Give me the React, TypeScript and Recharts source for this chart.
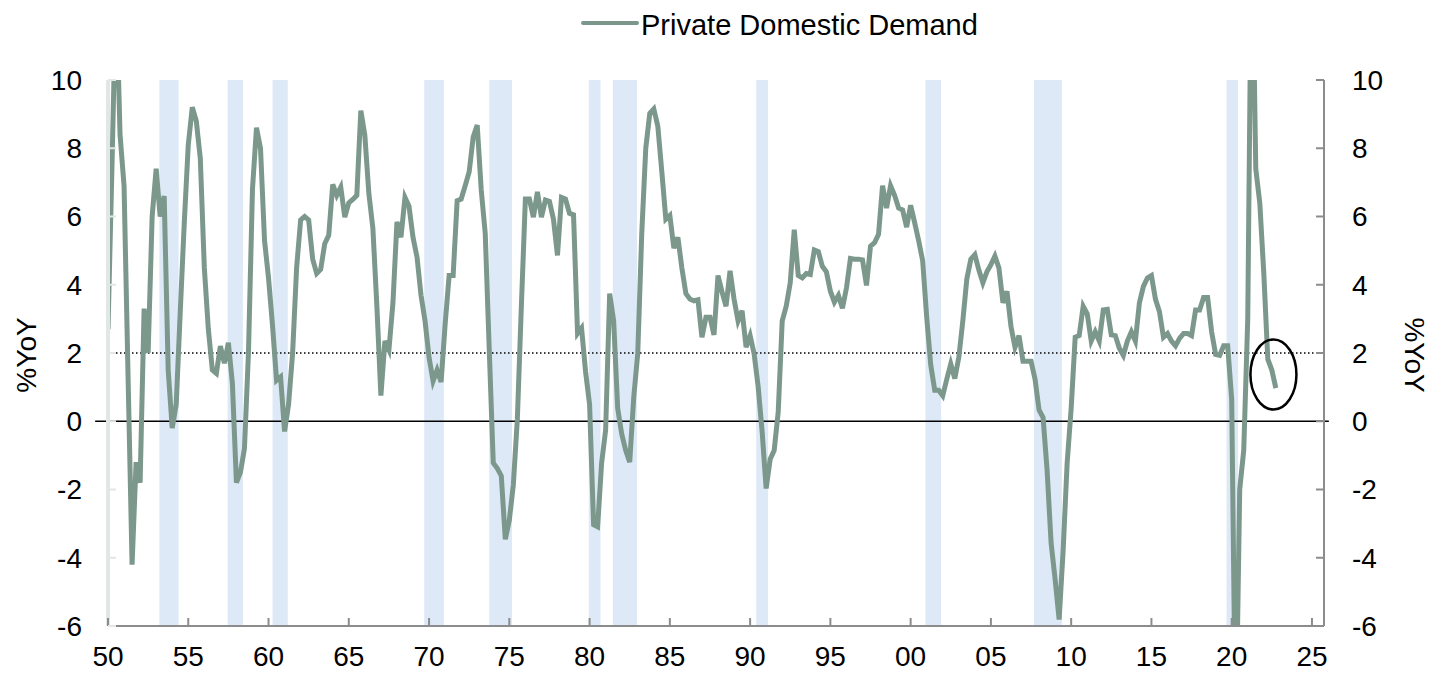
import { LineChart, Line, XAxis, YAxis, ReferenceArea, ReferenceLine, ReferenceDot } from 'recharts'

const FONT = '"Liberation Sans", Arial, Helvetica, sans-serif'
const LINE_COLOR = '#7c988c'
const BAND_COLOR = '#dde9f6'
const AXIS_GREY = '#8c8c8c'
const LEFT_AXIS = '#e1e7e4'

// Private domestic demand, %YoY, quarterly from 1950Q1 to 2022Q4
const firstYear = 1950
const demandYoY = [
  2.7, 7.5, 12.8, 8.4, // 1950
  6.9, 1.3, -4.2, -1.2,
  -1.8, 3.3, 2.0, 6.0,
  7.4, 6.0, 6.6, 1.5,
  -0.2, 0.5, 3.2, 5.8,
  8.1, 9.2, 8.8, 7.7, // 1955
  4.5, 2.7, 1.5, 1.4,
  2.2, 1.7, 2.3, 1.1,
  -1.8, -1.5, -0.8, 2.0,
  6.8, 8.6, 8.0, 5.3,
  4.2, 2.8, 1.2, 1.3, // 1960
  -0.3, 0.5, 2.0, 4.5,
  5.9, 6.0, 5.9, 4.75,
  4.33, 4.45, 5.2, 5.45,
  6.94, 6.62, 6.86, 5.98,
  6.4, 6.5, 6.62, 9.1, // 1965
  8.38, 6.67, 5.66, 3.37,
  0.75, 2.35, 2.09, 3.47,
  5.84, 5.39, 6.56, 6.3,
  5.39, 4.81, 3.69, 2.94,
  1.87, 1.18, 1.5, 1.15, // 1970
  2.83, 4.27, 4.27, 6.46,
  6.51, 6.9, 7.31, 8.33,
  8.68, 6.78, 5.5, 2.09,
  -1.22, -1.38, -1.6, -3.46,
  -2.9, -1.86, 0.06, 3.37, // 1975
  6.51, 6.51, 5.98, 6.72,
  5.98, 6.48, 6.44, 5.92,
  4.86, 6.56, 6.51, 6.09,
  6.05, 2.57, 2.73, 1.45,
  0.49, -3.03, -3.09, -1.22, // 1980
  -0.26, 3.74, 2.94, 0.38,
  -0.37, -0.85, -1.2, 0.7,
  1.98, 5.5, 8.0, 9.02,
  9.15, 8.65, 7.31, 5.92,
  6.03, 5.07, 5.39, 4.49, // 1985
  3.74, 3.58, 3.53, 3.56,
  2.46, 3.05, 3.05, 2.53,
  4.27, 3.79, 3.37, 4.41,
  3.58, 2.94, 3.24, 2.17,
  2.51, 1.98, 1.02, -0.31, // 1990
  -1.97, -1.11, -0.85, 0.27,
  2.94, 3.37, 4.06, 5.61,
  4.27, 4.2, 4.33, 4.3,
  5.02, 4.97, 4.54, 4.38,
  3.81, 3.49, 3.69, 3.31, // 1995
  3.9, 4.77, 4.75, 4.75,
  4.73, 3.98, 5.13, 5.23,
  5.48, 6.9, 6.25, 6.9,
  6.62, 6.25, 6.19, 5.69,
  6.33, 5.82, 5.29, 4.7, // 2000
  3.05, 1.66, 0.91, 0.91,
  0.75, 1.23, 1.68, 1.25,
  1.87, 2.94, 4.17, 4.75,
  4.88, 4.43, 4.06, 4.38,
  4.59, 4.84, 4.49, 3.47, // 2005
  3.81, 2.78, 2.17, 2.51,
  1.76, 1.76, 1.76, 1.23,
  0.33, 0.11, -1.43, -3.57,
  -4.63, -5.81, -3.78, -1.22,
  0.38, 2.46, 2.51, 3.37, // 2010
  3.15, 2.35, 2.62, 2.35,
  3.26, 3.28, 2.53, 2.51,
  2.14, 1.93, 2.35, 2.62,
  2.35, 3.47, 3.95, 4.2,
  4.27, 3.58, 3.21, 2.46, // 2015
  2.57, 2.35, 2.21, 2.43,
  2.57, 2.57, 2.51, 3.26,
  3.26, 3.63, 3.63, 2.62,
  1.96, 1.93, 2.21, 2.21,
  0.64, -9.5, -2.0, -0.85, // 2020
  3.0, 15.0, 7.4, 6.4,
  4.33, 1.82, 1.5, 0.97,
]

// recession shading (decimal years)
const recessionStart = [1953.2, 1957.45, 1960.25, 1969.7, 1973.75, 1979.95, 1981.45, 1990.38, 2000.92, 2007.68, 2019.68]
const recessionEnd = [1954.4, 1958.4, 1961.2, 1970.92, 1975.17, 1980.68, 1982.95, 1991.12, 2001.9, 2009.42, 2020.4]

const xTicks = [1950, 1955, 1960, 1965, 1970, 1975, 1980, 1985, 1990, 1995, 2000, 2005, 2010, 2015, 2020, 2025]
const yTicks = [-6, -4, -2, 0, 2, 4, 6, 8, 10]

// circled latest reading
const markerYear = 2022.6
const markerValue = 1.37

const data = demandYoY.map((v, i) => ({ t: firstYear + i / 4, v }))

const PLOT_BOTTOM = 626 // 80 top margin + 546 plot height
const labelStyle = { fontFamily: FONT, fontSize: 28, fill: '#000' }

const LeftTick = ({ x, y, payload }: any) => (
  <g>
    <line x1={x + 26} x2={x + 34} y1={y} y2={y} stroke={LEFT_AXIS} strokeWidth={2} />
    <text x={x} y={y} dy="0.35em" textAnchor="end" {...labelStyle}>
      {payload.value}
    </text>
  </g>
)

const RightTick = ({ x, y, payload }: any) => (
  <g>
    <line x1={x - 36} x2={x - 28} y1={y} y2={y} stroke={AXIS_GREY} strokeWidth={2} />
    <text x={x} y={y} dy="0.35em" textAnchor="start" {...labelStyle}>
      {payload.value}
    </text>
  </g>
)

const BottomTick = ({ x, payload }: any) => (
  <g>
    <line x1={x} x2={x} y1={PLOT_BOTTOM} y2={PLOT_BOTTOM - 8} stroke={AXIS_GREY} strokeWidth={2} />
    <text x={x} y={PLOT_BOTTOM + 40} textAnchor="middle" {...labelStyle}>
      {String(payload.value % 100).padStart(2, '0')}
    </text>
  </g>
)

export default function App() {
  return (
    <div style={{ position: 'relative', width: 1433, height: 674, margin: -8, background: '#fff' }}>
      <LineChart width={1433} height={674} data={data} margin={{ top: 80, right: 0, bottom: 0, left: 0 }}>
        <XAxis
          dataKey="t"
          type="number"
          domain={[1950, 2025.75]}
          ticks={xTicks}
          interval={0}
          allowDataOverflow
          height={48}
          tickSize={0}
          tickMargin={0}
          tick={<BottomTick />}
          axisLine={{ stroke: AXIS_GREY, strokeWidth: 2 }}
        />
        <YAxis
          yAxisId="left"
          domain={[-6, 10]}
          ticks={yTicks}
          interval={0}
          allowDataOverflow
          width={108}
          tickSize={0}
          tickMargin={26}
          tick={<LeftTick />}
          axisLine={{ stroke: LEFT_AXIS, strokeWidth: 4 }}
        />
        <YAxis
          yAxisId="right"
          orientation="right"
          domain={[-6, 10]}
          ticks={yTicks}
          interval={0}
          allowDataOverflow
          width={109}
          tickSize={0}
          tickMargin={28}
          tick={<RightTick />}
          axisLine={{ stroke: AXIS_GREY, strokeWidth: 2 }}
        />

        {recessionStart.map((s, i) => (
          <ReferenceArea
            key={s}
            yAxisId="left"
            x1={s}
            x2={recessionEnd[i]}
            fill={BAND_COLOR}
            fillOpacity={1}
            stroke="none"
          />
        ))}

        <ReferenceLine yAxisId="left" y={2} stroke="#000" strokeWidth={1.5} strokeDasharray="1.5 2.5" />
        <ReferenceLine
          yAxisId="left"
          segment={[{ x: 1949.2, y: 0 }, { x: 2026.05, y: 0 }]}
          ifOverflow="visible"
          stroke="#000"
          strokeWidth={1.5}
        />

        <Line
          yAxisId="left"
          type="linear"
          dataKey="v"
          stroke={LINE_COLOR}
          strokeWidth={5}
          dot={false}
          isAnimationActive={false}
        />

        <ReferenceDot
          yAxisId="left"
          x={markerYear}
          y={markerValue}
          ifOverflow="visible"
          shape={(p: any) => (
            <ellipse cx={p.cx} cy={p.cy} rx={23} ry={35} fill="none" stroke="#000" strokeWidth={2.5} />
          )}
        />
      </LineChart>

      {/* legend and axis titles */}
      <svg width={1433} height={674} style={{ position: 'absolute', left: 0, top: 0, pointerEvents: 'none' }}>
        <line x1={583} x2={637} y1={23} y2={23} stroke={LINE_COLOR} strokeWidth={4} strokeLinecap="round" />
        <text x={641} y={35} fontFamily={FONT} fontSize={29} fill="#000">
          Private Domestic Demand
        </text>
        <text
          x={26}
          y={355}
          dy="0.35em"
          textAnchor="middle"
          transform="rotate(-90, 26, 355)"
          {...labelStyle}
        >
          %YoY
        </text>
        <text
          x={1415}
          y={355}
          dy="0.35em"
          textAnchor="middle"
          transform="rotate(90, 1415, 355)"
          {...labelStyle}
        >
          %YoY
        </text>
      </svg>
    </div>
  )
}
